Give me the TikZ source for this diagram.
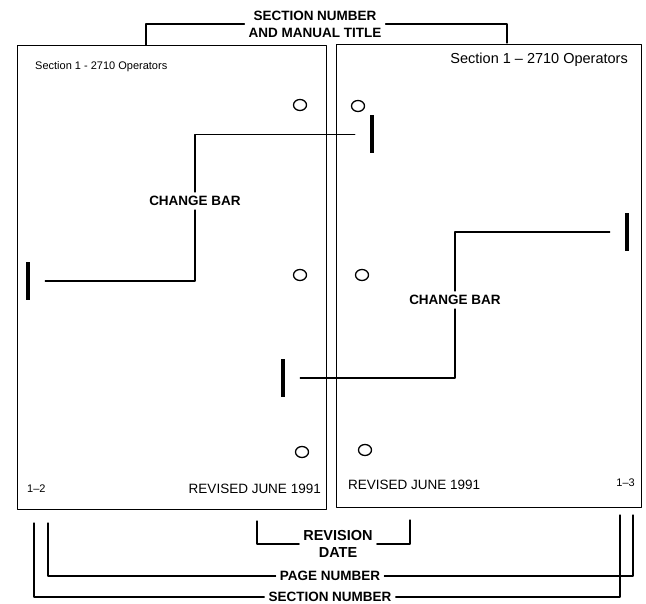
\documentclass[tikz,border=0pt]{standalone}
\usepackage{fontspec}
\setmainfont{Liberation Sans}
\usepackage{tikz}
\usetikzlibrary{shapes.geometric}
\tikzset{
  every picture/.style={line join=round, line cap=round},
  pageline/.style={line width=1pt},
  leader/.style={line width=1.1pt},
  callout/.style={font=\bfseries\fontsize{13.5}{17}\selectfont, align=center, inner sep=4pt},
  pagetext/.style={font=\fontsize{13.5}{15}\selectfont, inner sep=0pt},
  changebar/.style={fill=black, inner sep=0pt, minimum width=4.5pt, minimum height=38pt, outer xsep=15pt},
  hole/.style={ellipse, draw, line width=1.3pt, minimum width=13pt, minimum height=11pt, inner sep=0pt},
}

\begin{document}
\begin{tikzpicture}[x=1pt,y=-1pt]
\useasboundingbox(0,0)rectangle(646,604);
\draw[pageline](17,46)rectangle(326,509);
\draw[pageline](336,45)rectangle(641,507);
\draw(35,67)node[pagetext,anchor=west,font=\fontsize{11}{13}\selectfont](headL){Section 1 - 2710 Operators}
(628,60)node[pagetext,anchor=east,font=\fontsize{14.5}{16}\selectfont](headR){Section 1 -- 2710 Operators}
(27,489)node[pagetext,anchor=west,font=\fontsize{11}{13}\selectfont](numL){1--2}
(321,489)node[pagetext,anchor=east](revL){REVISED JUNE 1991}
(348,485)node[pagetext,anchor=west](revR){REVISED JUNE 1991}
(635,483)node[pagetext,anchor=east,font=\fontsize{11}{13}\selectfont](numR){1--3};
\draw(300,105)node[hole](holeL1){}
(300,275)node[hole](holeL2){}
(302,452)node[hole](holeL3){}
(358,106)node[hole](holeR1){}
(362,275)node[hole](holeR2){}
(365,450)node[hole](holeR3){};
\node[changebar](barA)at(372,134.5){};
\node[changebar](barB)at(28,281){};
\node[changebar](barC)at(627,232){};
\node[changebar](barD)at(283,378){};
\node[callout](changeA)at(195,201){CHANGE BAR};
\node[callout](changeB)at(455,300){CHANGE BAR};
\draw[leader](barA.west)-|(changeA.north);
\draw[leader](changeA.south)|-(barB.east);
\draw[leader](barC.west)-|(changeB.north);
\draw[leader](changeB.south)|-(barD.east);
% callouts round the pages
\node[callout](topLabel)at(315,24){SECTION NUMBER\\AND MANUAL TITLE};
\coordinate(topTipL)at(146,45);
\coordinate(topTipR)at(507,43);
\draw[leader](topLabel.west)-|(topTipL);
\draw[leader](topLabel.east)-|(topTipR);
\node[callout,font=\bfseries\fontsize{14.5}{17}\selectfont](revLabel)at(338,544){REVISION\\DATE};
\coordinate(revTipL)at(257,521);
\coordinate(revTipR)at(410,520);
\draw[leader](revLabel.west)-|(revTipL);
\draw[leader](revLabel.east)-|(revTipR);
\node[callout](pageLabel)at(330,576){PAGE NUMBER};
\coordinate(pageTipL)at(48,523);
\coordinate(pageTipR)at(633,515);
\draw[leader](pageLabel.west)-|(pageTipL);
\draw[leader](pageLabel.east)-|(pageTipR);
\node[callout](sectLabel)at(330,597){SECTION NUMBER};
\coordinate(sectTipL)at(34,523);
\coordinate(sectTipR)at(620,515);
\draw[leader](sectLabel.west)-|(sectTipL);
\draw[leader](sectLabel.east)-|(sectTipR);
\end{tikzpicture}
\end{document}
